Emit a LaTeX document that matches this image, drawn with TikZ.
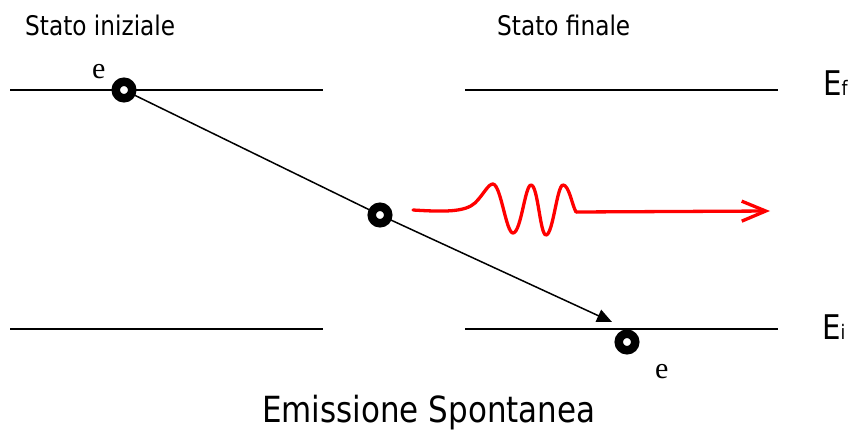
\documentclass[tikz,border=0pt]{standalone}
\usepackage{fontspec}
\setmainfont[FakeStretch=0.86]{DejaVu Sans}
\newfontfamily\serifE{Liberation Serif}
\usetikzlibrary{arrows.meta,backgrounds}
\tikzset{
  level/.style={line width=1.5pt, black},
  electron/.style={circle, draw=black, fill=white, line width=8.5pt, minimum size=16.5pt, inner sep=0pt},
  path/.style={line width=1.5pt, black},
  wave/.style={red, line width=3.3pt, line cap=round, line join=round},
  lbl/.style={anchor=base west, inner sep=0pt, font=\fontsize{27}{30}\selectfont},
  title/.style={anchor=base west, inner sep=0pt, font=\fontsize{36}{40}\selectfont},
  elbl/.style={anchor=base west, inner sep=0pt, font=\serifE\fontsize{30}{32}\selectfont},
  energy/.style={anchor=base west, inner sep=0pt, font=\fontsize{34}{36}\selectfont},
}
\begin{document}
\begin{tikzpicture}[x=1pt,y=-1pt]
\useasboundingbox (0,0) rectangle (854,434);
% energy levels
\coordinate (l1a) at (10,90);  \coordinate (l1b) at (323,90);
\coordinate (l2a) at (10,329); \coordinate (l2b) at (323,329);
\coordinate (r1a) at (465,90); \coordinate (r1b) at (778,90);
\coordinate (r2a) at (465,329);\coordinate (r2b) at (778,329);
\draw[level] (l1a) -- (l1b);
\draw[level] (l2a) -- (l2b);
\draw[level] (r1a) -- (r1b);
\draw[level] (r2a) -- (r2b);
% electrons
\node[electron] (c1) at (124,90) {};
\node[electron] (c2) at (380,215) {};
\node[electron] (c3) at (627,342) {};
\coordinate (tip) at (612,322);
\begin{scope}[on background layer]
\draw[path] (c1.center) -- (c2.center);
\draw[path, -{Triangle[length=15pt,width=13pt]}] (c2.center) -- (tip);
\end{scope}
% photon
\coordinate (w0) at (413,210);
\coordinate (w1) at (576,212);
\coordinate (w2) at (770,211);
\draw[wave] (w0) .. controls (445,212) and (465,212) .. (475,203)
  .. controls (484,194) and (488,184) .. (493,184)
  .. controls (501,185) and (506,233) .. (513,233)
  .. controls (521,233) and (525,185) .. (531,185)
  .. controls (538,185) and (540,235) .. (546,235)
  .. controls (553,235) and (557,185) .. (563,185)
  .. controls (569,185) and (572,205) .. (w1);
\draw[wave, -{Straight Barb[length=24pt,width=20pt,line width=3.3pt]}] (w1) -- (w2);
% labels
\node[lbl] (si) at (25,35) {Stato iniziale};
\node[lbl] (sf) at (497,35) {Stato finale};
\node[title] (em) at (262,422) {Emissione Spontanea};
\node[elbl] (e1) at (92,78) {e};
\node[elbl] (e2) at (655,378) {e};
\node[energy] (ef) at (823,95) {E{\fontsize{20}{22}\selectfont f}};
\node[energy] (ei) at (822,339) {E{\fontsize{20}{22}\selectfont i}};
\end{tikzpicture}
\end{document}
